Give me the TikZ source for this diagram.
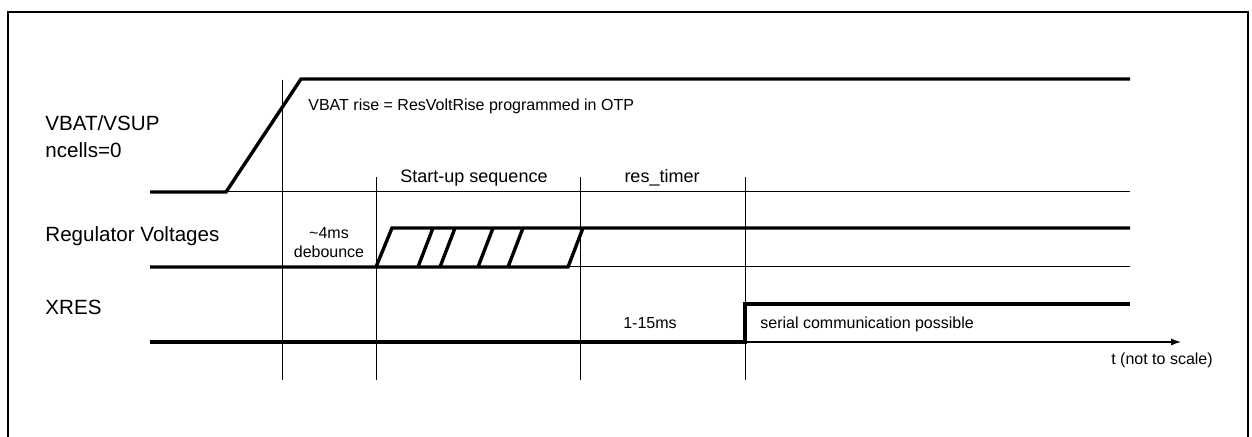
\documentclass[tikz,border=0pt]{standalone}
\usepackage{fontspec}
\setmainfont{Liberation Sans}
\usetikzlibrary{arrows.meta}

\begin{document}
\begin{tikzpicture}[
    x=0.5pt, y=-0.5pt,
    signal/.style  = {line width=1.7pt, line join=miter},
    guide/.style   = {line width=0.5pt},
    frame/.style   = {line width=1pt},
    siglabel/.style= {font=\fontsize{10.3}{13.5}\selectfont,
                      anchor=base west, align=left, inner sep=0pt},
    note/.style    = {font=\fontsize{8}{9.5}\selectfont,
                      anchor=base, align=center, inner sep=0pt},
    phase/.style   = {font=\fontsize{9}{11}\selectfont,
                      anchor=base, inner sep=0pt},
    axis/.style    = {line width=0.6pt, -{Latex[length=5pt,width=3.5pt]}},
]

\useasboundingbox (0,0) rectangle (1252,437);

% ─── Frame ───────────────────────────────────────────────────────────────
\draw[frame] (8,440) |- (1248,12) -- (1248,440);

% ─── Phase markers ───────────────────────────────────────────────────────
\draw[guide] (282,80) -- (282,380);
\foreach \tx in {376,580,745}
    \draw[guide] (\tx,177) -- (\tx,380);

% ─── VBAT/VSUP ───────────────────────────────────────────────────────────
\node[siglabel] (vbat) at (45,158) {VBAT/VSUP\\ncells=0};
\draw[signal] (150,192) -- (226,192) -- (301,79) -- (1130,79);
\draw[guide] (226,192) -- (1130,192);
\node[note, anchor=base west] (rise) at (308,111)
    {VBAT rise = ResVoltRise programmed in OTP};

% ─── Regulator Voltages ──────────────────────────────────────────────────
\node[siglabel] (reg) at (45,242) {Regulator Voltages};
\draw[signal] (150,267) -- (568,267) -- (583,228);
\draw[signal] (376,267) -- (392,228) -- (1130,228);
\foreach \sx in {418,440,478,508}
    \draw[signal] (\sx,267) -- ++(15,-39);
\draw[guide] (568,267) -- (1130,267);
\node[note] (debounce) at (329,258) {\textasciitilde 4ms\\debounce};
\node[phase] (startup) at (474,183) {Start-up sequence};
\node[phase] (restimer) at (662,183) {res\_timer};

% ─── XRES ────────────────────────────────────────────────────────────────
\node[siglabel] (xres) at (45,315) {XRES};
\draw[signal] (150,342) -- (745,342) -- (745,304) -- (1130,304);
\draw[axis] (745,342) -- (1181,342);
\node[note] (dur) at (650,329) {1-15ms};
\node[note, anchor=base west] (serial) at (760,329)
    {serial communication possible};
\node[note] (taxis) at (1162,365) {t (not to scale)};

\end{tikzpicture}
\end{document}
